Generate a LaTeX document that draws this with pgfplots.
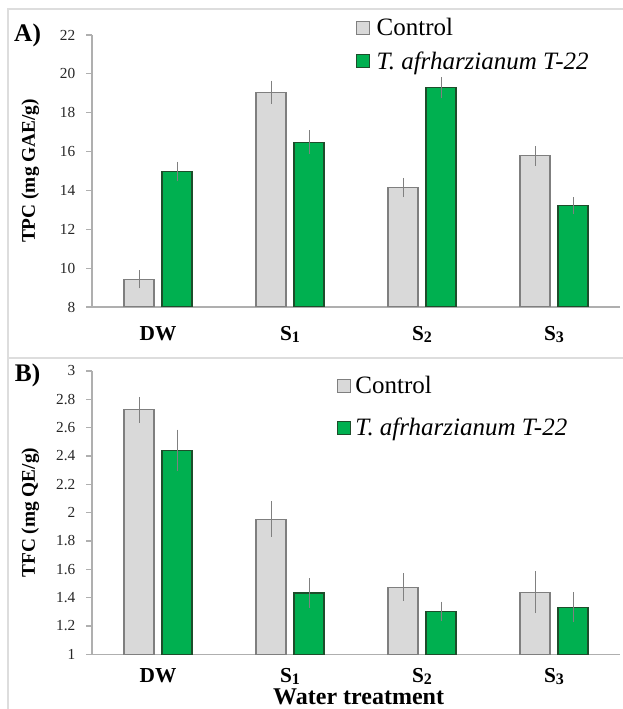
\documentclass[border=0pt]{standalone}
\usepackage{pgfplots}
\pgfplotsset{compat=1.18}
\usepackage{pgfplotstable}
\usepackage{fontspec}
\setmainfont{Liberation Serif}
\newfontfamily\tnr{Liberation Serif}
\newcommand\sub[1]{\raisebox{-1.5pt}{\fontsize{12}{12}\selectfont\bfseries #1}}
\definecolor{ctrlfill}{HTML}{D9D9D9}
\definecolor{ctrldraw}{HTML}{7F7F7F}
\definecolor{trtfill}{HTML}{00B050}
\definecolor{trtdraw}{HTML}{1E4D2B}
\definecolor{axgray}{HTML}{AFAFAF}
\definecolor{errgray}{HTML}{808080}
\definecolor{framegray}{HTML}{DDDDDD}

\pgfplotstableread{
x c ce t te
0 9.42 0.28 14.98 0.33
1 19.05 0.42 16.49 0.42
2 14.15 0.32 19.28 0.36
3 15.78 0.32 13.22 0.26
}\dataA

\pgfplotstableread{
x c ce t te
0 2.725 0.067 2.442 0.120
1 1.955 0.100 1.433 0.080
2 1.475 0.072 1.304 0.044
3 1.438 0.123 1.332 0.081
}\dataB

\pgfplotsset{
  common/.style={
    scale only axis,
    width=396pt,
    xmin=-0.5, xmax=3.5,
    enlargelimits=false,
    clip mode=individual,
    axis lines=left,
    axis line style={-, draw=axgray, line width=0.8pt},
    xtick={0,1,2,3},
    xticklabels={\textbf{DW},\textbf{S}\sub{1},\textbf{S}\sub{2},\textbf{S}\sub{3}},
    x tick style={draw=none},
    y tick style={draw=axgray, line width=0.8pt},
    tick align=outside,
    ytick pos=left,
    major tick length=4.5pt,
    /pgf/number format/assume math mode=true,
    yticklabel style={font=\tnr\fontsize{11.5}{13}\selectfont, text=black!85, xshift=-4.5pt},
    xticklabel style={font=\tnr\fontsize{16}{18}\selectfont\bfseries, text=black, anchor=base, inner sep=0pt},
    ylabel style={font=\tnr\fontsize{14.5}{16}\selectfont\bfseries, at={(axis description cs:-0.117,0.5)}, anchor=center},
    ybar=6pt,
    bar width=22.5pt,
    legend image code/.code={\draw[#1] (0pt,-4.9pt) rectangle (9.75pt,4.9pt);},
    legend cell align=left,
  },
  ctrl/.style={fill=ctrlfill, draw=ctrldraw, line width=0.8pt,
    error bars/.cd, y dir=both, y explicit,
    error bar style={errgray, line width=0.6pt},
    error mark options={errgray, line width=0.6pt, mark size=2.6pt}},
  trt/.style={fill=trtfill, draw=trtdraw, line width=0.8pt,
    error bars/.cd, y dir=both, y explicit,
    error bar style={errgray, line width=0.6pt},
    error mark options={errgray, line width=0.6pt, mark size=2.6pt}},
}

\begin{document}
\begin{tikzpicture}
\useasboundingbox (0,0) rectangle (466.5pt,531.75pt);
\draw[framegray, line width=0.8pt] (6pt,263.25pt) rectangle (470pt,525pt);
\draw[framegray, line width=0.8pt] (6pt,-5pt) rectangle (470pt,263.25pt);

\begin{axis}[common,
  at={(69pt,301.5pt)}, anchor=south west,
  height=204pt,
  ymin=8, ymax=22, ytick={8,10,...,22},
  xticklabel style={yshift=-21pt},
  ylabel={TPC (mg GAE/g)},
  legend style={at={(axis description cs:0.4995,1.073)}, anchor=north west, draw=none, fill=none,
    font=\tnr\fontsize{18.75}{21}\selectfont, row sep=6.5pt, inner sep=0pt},
]
\addplot[ctrl] table[x=x, y=c, y error=ce]{\dataA};
\addplot[trt] table[x=x, y=t, y error=te]{\dataA};
\legend{\hspace{3pt}Control, \hspace{3pt}\textit{T. afrharzianum T-22}}
\node[font=\tnr\fontsize{19}{21}\selectfont\bfseries, inner sep=0pt] at (axis description cs:-0.122,1.0) {A)};
\end{axis}

\begin{axis}[common,
  at={(69pt,41pt)}, anchor=south west,
  height=212.5pt,
  ymin=1, ymax=3, ytick={1,1.2,1.4,1.6,1.8,2,2.2,2.4,2.6,2.8,3},
  yticklabels={1,1.2,1.4,1.6,1.8,2,2.2,2.4,2.6,2.8,3},
  xticklabel style={yshift=-16.5pt},
  ylabel={TFC (mg QE/g)},
  xlabel={Water treatment},
  xlabel style={font=\tnr\fontsize{18}{20}\selectfont\bfseries, inner sep=0pt, at={(axis description cs:0.505,-0.151)}, anchor=center},
  legend style={at={(axis description cs:0.463,0.991)}, anchor=north west, draw=none, fill=none,
    font=\tnr\fontsize{18.75}{21}\selectfont, row sep=12.5pt, inner sep=0pt},
]
\addplot[ctrl] table[x=x, y=c, y error=ce]{\dataB};
\addplot[trt] table[x=x, y=t, y error=te]{\dataB};
\legend{\hspace{1.5pt}Control, \hspace{1.5pt}\textit{T. afrharzianum T-22}}
\node[font=\tnr\fontsize{19}{21}\selectfont\bfseries, inner sep=0pt] at (axis description cs:-0.122,0.985) {B)};
\end{axis}
\end{tikzpicture}
\end{document}
